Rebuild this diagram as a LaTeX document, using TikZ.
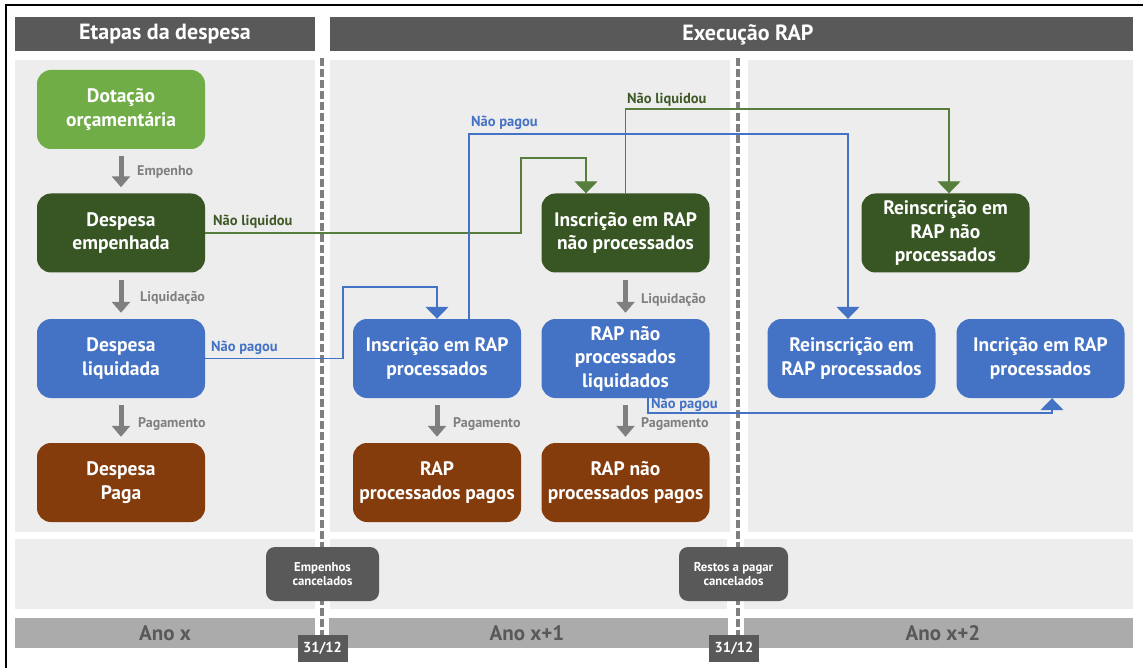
\documentclass[tikz,border=0pt]{standalone}
\usepackage{fontspec}
\setmainfont{PT Sans}
\usetikzlibrary{arrows.meta,calc}
\definecolor{hdr}{HTML}{595959}
\definecolor{panel}{HTML}{EDEDED}
\definecolor{yearbar}{HTML}{ABABAB}
\definecolor{lgreen}{HTML}{70AD47}
\definecolor{dgreen}{HTML}{375623}
\definecolor{mblue}{HTML}{4472C4}
\definecolor{brown}{HTML}{843C0C}
\definecolor{gline}{HTML}{587E3E}
\definecolor{glabel}{HTML}{3F5A27}
\definecolor{grayarr}{HTML}{7F7F7F}
\begin{document}
\begin{tikzpicture}[x=1pt,y=-1pt,
  box/.style={rounded corners=14pt, minimum width=168pt, minimum height=79pt, text=white, align=center, inner sep=0pt, font=\fontsize{19.5}{23.5}\selectfont\bfseries},
  cancelbox/.style={rounded corners=9pt, fill=hdr, text=white, align=center, inner sep=0pt, minimum height=54pt, font=\fontsize{12.8}{13.5}\selectfont\bfseries},
  datebox/.style={fill=hdr, text=white, inner sep=0pt, minimum width=50pt, minimum height=27pt, font=\fontsize{14.5}{16}\selectfont\bfseries},
  hdrtext/.style={text=white, font=\fontsize{22}{24}\selectfont\bfseries},
  yeartext/.style={text=hdr, font=\fontsize{21}{23}\selectfont\bfseries},
  garrow/.style={draw=grayarr, line width=5pt, -{Triangle[width=18pt,length=11pt]}, shorten <=7pt, shorten >=6pt},
  glab/.style={anchor=west, text=grayarr, inner sep=0pt, font=\fontsize{14}{15}\selectfont\bfseries},
  conn/.style={line width=1.3pt, -{Triangle[width=23pt,length=12pt]}},
  greenconn/.style={conn, draw=gline},
  blueconn/.style={conn, draw=mblue},
  clab/.style={anchor=west, inner sep=0pt, font=\fontsize{14.5}{15}\selectfont\bfseries},
  dline/.style={draw=grayarr, line width=4pt, dash pattern=on 8pt off 3pt}
]
\useasboundingbox (0,0) rectangle (1143,668);
% outer frame
\draw[line width=2pt] (6,669) -- (6,5) -- (1144,5);
% header bars
\fill[hdr] (15,17) rectangle (315,51);
\fill[hdr] (330,17) rectangle (1133,51);
\node[hdrtext] (h1) at (165,34.5) {Etapas da despesa};
\node[hdrtext] (h2) at (748,34.5) {Execução RAP};
% main panels
\fill[panel] (15,60) rectangle (315,532);
\fill[panel] (330,60) rectangle (730,532);
\fill[panel] (748,60) rectangle (1133,532);
% bottom strip
\fill[panel] (15,539) rectangle (315,609);
\fill[panel] (330,539) rectangle (727,609);
\fill[panel] (744,539) rectangle (1133,609);
% year bar
\fill[yearbar] (15,618) rectangle (315,648);
\fill[yearbar] (329,618) rectangle (728,648);
\fill[yearbar] (744,618) rectangle (1133,648);
\node[yeartext] (y1) at (165,633) {Ano x};
\node[yeartext] (y2) at (527,633) {Ano x+1};
\node[yeartext] (y3) at (943,633) {Ano x+2};
% dashed lines
\draw[dline] (322,58) -- (322,636);
\draw[dline] (738,58) -- (738,636);
% cancel boxes and dates
\node[cancelbox, minimum width=113pt] (ec) at (322.5,574) {Empenhos\\cancelados};
\node[cancelbox, minimum width=109pt] (rc) at (733.5,574) {Restos a pagar\\cancelados};
\node[datebox] (d1) at (322.5,648.5) {31/12};
\node[datebox] (d2) at (734,648.5) {31/12};
% boxes
\node[box, fill=lgreen] (dot) at (121,109.5) {Dotação\\orçamentária};
\node[box, fill=dgreen] (emp) at (121,233) {Despesa\\empenhada};
\node[box, fill=mblue] (liq) at (121,358.5) {Despesa\\liquidada};
\node[box, fill=brown] (paga) at (121,482.5) {Despesa\\Paga};
\node[box, fill=dgreen] (inp) at (625.5,233) {Inscrição em RAP\\não processados};
\node[box, fill=dgreen] (rnp) at (945.5,233) {Reinscrição em\\RAP não\\processados};
\node[box, fill=mblue] (ip) at (437,358.5) {Inscrição em RAP\\processados};
\node[box, fill=mblue] (npl) at (625.5,358.5) {RAP não\\processados\\liquidados};
\node[box, fill=mblue] (rp) at (851.5,358.5) {Reinscrição em\\RAP processados};
\node[box, fill=mblue] (icp) at (1040.5,358.5) {Incrição em RAP\\processados};
\node[box, fill=brown] (pp) at (437,482.5) {RAP\\processados pagos};
\node[box, fill=brown] (npp) at (625.5,482.5) {RAP não\\processados pagos};
% gray stage arrows
\draw[garrow] (dot) -- (emp);
\draw[garrow] (emp) -- (liq);
\draw[garrow] (liq) -- (paga);
\draw[garrow] (ip) -- (pp);
\draw[garrow] (inp) -- (npl);
\draw[garrow] (npl) -- (npp);
\node[glab] (l1) at (137,172) {Empenho};
\node[glab] (l2) at (140,298) {Liquidação};
\node[glab] (l3) at (138,424) {Pagamento};
\node[glab] (l4) at (453,424) {Pagamento};
\node[glab] (l5) at (641,300) {Liquidação};
\node[glab] (l6) at (641,424) {Pagamento};
% connectors
\coordinate (g1) at (521,158);
\coordinate (g2) at (626,109);
\coordinate (b1) at (343,287);
\coordinate (b2) at (469,134);
\coordinate (b3) at (1052,413);
\draw[greenconn] (emp.east) -| (g1) -| ($(inp.north)+(-39.5,0)$);
\draw[greenconn] (inp.north) -- (inp.north |- g2) -| ($(rnp.north)+(3.5,0)$);
\draw[blueconn] (liq.east) -| (b1) -| (ip.north);
\draw[blueconn] ($(ip.north)+(32,0)$) -- (b2) -| ($(rp.north)+(-3.5,0)$);
\draw[blueconn] ($(npl.south)+(22.5,0)$) |- (b3) -- (icp.south -| b3);
\node[clab, text=glabel] (t1) at (213,222) {Não liquidou};
\node[clab, text=glabel] (t2) at (627,100) {Não liquidou};
\node[clab, text=mblue] (t3) at (211,348) {Não pagou};
\node[clab, text=mblue] (t4) at (471,123) {Não pagou};
\node[clab, text=mblue] (t5) at (651,405) {Não pagou};
\end{tikzpicture}
\end{document}
